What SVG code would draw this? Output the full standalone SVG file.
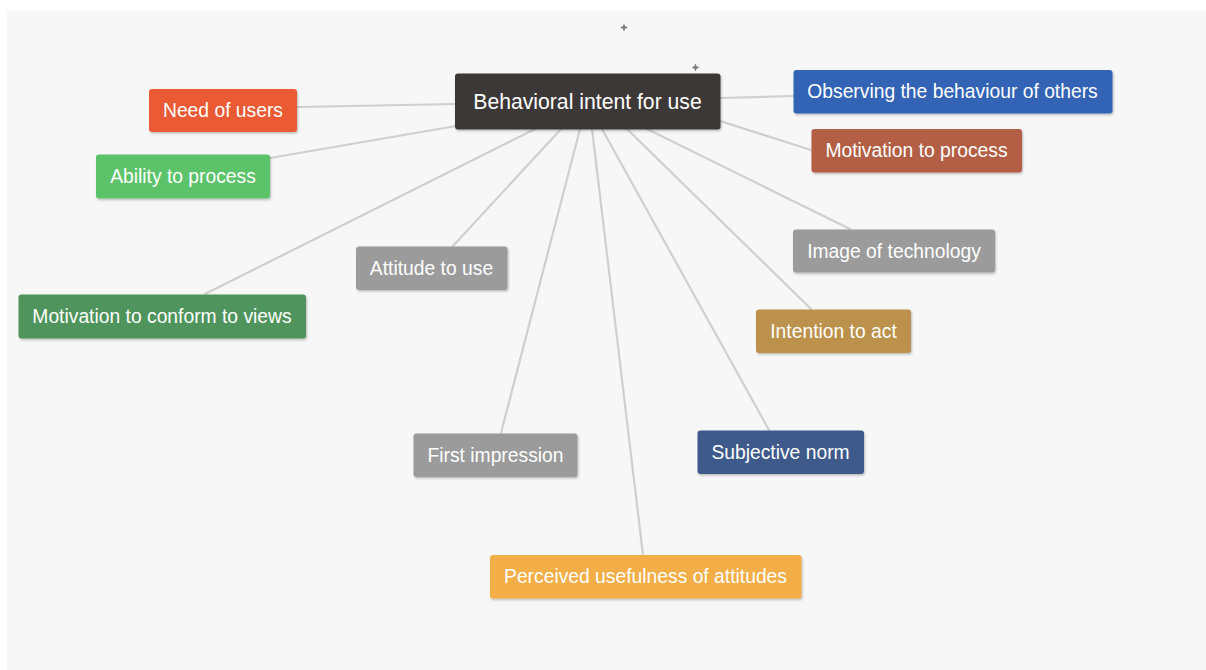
<svg xmlns="http://www.w3.org/2000/svg" width="1206" height="670" viewBox="0 0 1206 670">
  <defs>
    <filter id="shadow" x="-10%" y="-20%" width="120%" height="150%">
      <feDropShadow dx="1" dy="1.5" stdDeviation="1" flood-color="#000" flood-opacity="0.25"/>
    </filter>
  </defs>
  <style>
    .node rect { filter: url(#shadow); }
    .node text { font-family: "Liberation Sans", Arial, sans-serif; font-size: 19.3px; fill: #ffffff; text-anchor: middle; dominant-baseline: central; }
    #n-center text { font-size: 21.2px; }
    #edges line { stroke: #cfcfcf; stroke-width: 2.2; stroke-linecap: round; }
    .spark { fill: #7d7d7d; }
  </style>

  <!-- canvas -->
  <rect x="0" y="0" width="1206" height="670" fill="#ffffff"/>
  <rect x="7" y="10" width="1199" height="660" fill="#f7f7f7"/>

  <!-- small sparkle marks -->
  <path class="spark" d="M624 23.5 L625.2 26.3 L628 27.5 L625.2 28.7 L624 31.5 L622.8 28.7 L620 27.5 L622.8 26.3 Z"/>
  <path class="spark" d="M695.5 63.5 L696.7 66.3 L699.5 67.5 L696.7 68.7 L695.5 71.5 L694.3 68.7 L691.5 67.5 L694.3 66.3 Z"/>

  <!-- connectors -->
  <g id="edges">
    <line x1="297" y1="107" x2="456" y2="104"/>
    <line x1="270" y1="158" x2="456" y2="126"/>
    <line x1="205" y1="294" x2="535" y2="129"/>
    <line x1="453" y1="246" x2="561" y2="129"/>
    <line x1="501" y1="433" x2="580" y2="129"/>
    <line x1="643" y1="555" x2="592" y2="129"/>
    <line x1="769" y1="430" x2="602" y2="129"/>
    <line x1="811" y1="309" x2="627" y2="129"/>
    <line x1="850" y1="229" x2="647" y2="129"/>
    <line x1="811" y1="150" x2="720" y2="121"/>
    <line x1="793" y1="96" x2="720" y2="98"/>
  </g>

  <!-- nodes -->
  <g id="n-center" class="node">
    <rect x="455" y="73.5" width="265.5" height="56" rx="3" fill="#3d3938"/>
    <text x="587.5" y="101.5">Behavioral intent for use</text>
  </g>
  <g id="n-need" class="node">
    <rect x="149" y="89" width="148" height="43" rx="3" fill="#e95a35"/>
    <text x="223" y="110.5">Need of users</text>
  </g>
  <g id="n-ability" class="node">
    <rect x="96" y="154.5" width="174" height="44" rx="3" fill="#5bc36b"/>
    <text x="183" y="176.5">Ability to process</text>
  </g>
  <g id="n-observing" class="node">
    <rect x="793.5" y="70" width="319" height="43.5" rx="3" fill="#3363b5"/>
    <text x="952.5" y="91.5">Observing the behaviour of others</text>
  </g>
  <g id="n-motivation-process" class="node">
    <rect x="811.5" y="129" width="210.5" height="43.5" rx="3" fill="#b25e45"/>
    <text x="916.5" y="150.5">Motivation to process</text>
  </g>
  <g id="n-image" class="node">
    <rect x="793" y="229.5" width="202" height="43" rx="3" fill="#9b9b9b"/>
    <text x="894" y="251">Image of technology</text>
  </g>
  <g id="n-attitude" class="node">
    <rect x="356" y="246.5" width="151.5" height="43.5" rx="3" fill="#9b9b9b"/>
    <text x="431.5" y="268">Attitude to use</text>
  </g>
  <g id="n-conform" class="node">
    <rect x="18.5" y="294.5" width="287.5" height="44" rx="3" fill="#4f945d"/>
    <text x="162" y="316">Motivation to conform to views</text>
  </g>
  <g id="n-intention" class="node">
    <rect x="756" y="309.5" width="155" height="43.5" rx="3" fill="#bc914b"/>
    <text x="833.5" y="331">Intention to act</text>
  </g>
  <g id="n-first" class="node">
    <rect x="413.5" y="433.5" width="164" height="43.5" rx="3" fill="#9b9b9b"/>
    <text x="495.5" y="455">First impression</text>
  </g>
  <g id="n-subjective" class="node">
    <rect x="697.5" y="430.5" width="166.5" height="43.5" rx="3" fill="#3d5a8b"/>
    <text x="780.5" y="452">Subjective norm</text>
  </g>
  <g id="n-perceived" class="node">
    <rect x="490" y="555" width="311.5" height="43.5" rx="3" fill="#f3ae47"/>
    <text x="645.5" y="576.5">Perceived usefulness of attitudes</text>
  </g>
</svg>
